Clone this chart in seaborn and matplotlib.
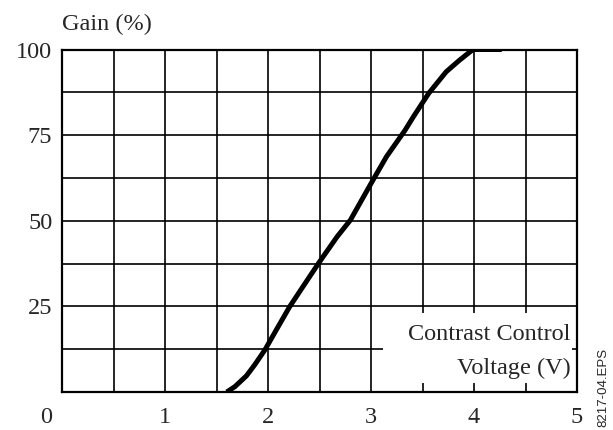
import matplotlib
matplotlib.use("Agg")
import matplotlib.pyplot as plt
import matplotlib.transforms as mtransforms
from matplotlib.patches import Rectangle
import seaborn as sns
import pandas as pd

# Data
voltage = [1.60, 1.68, 1.79, 1.87, 1.97, 2.08, 2.21, 2.36, 2.50, 2.67, 2.80,
           3.01, 3.15, 3.33, 3.41, 3.56, 3.73, 3.86, 3.99, 4.27]
gain = [0.0, 1.6, 4.7, 7.9, 12.3, 18.1, 24.9, 31.7, 38.0, 45.3, 50.2,
        61.4, 68.7, 76.4, 80.3, 87.2, 93.5, 96.9, 100.0, 100.0]
x_ticks = [0, 1, 2, 3, 4, 5]
x_tick_labels = ["0", "1", "2", "3", "4", "5"]
y_ticks = [25, 50, 75, 100]
y_tick_labels = ["25", "50", "75", "100"]
y_label = "Gain (%)"
x_label_lines = ["Contrast Control", "Voltage (V)"]
figure_id = "8217-04.EPS"

df = pd.DataFrame({"voltage": voltage, "gain": gain})

sns.set_style("white")
plt.rcParams["font.family"] = ["Liberation Serif", "DejaVu Serif"]
FS = 17.5

fig = plt.figure(figsize=(6.13, 4.30), dpi=100)
ax = fig.add_axes([62 / 613, 1 - 392 / 430, (577 - 62) / 613, (392 - 49.5) / 430])

sns.lineplot(data=df, x="voltage", y="gain", ax=ax, color="black", linewidth=3.6,
             solid_capstyle="butt", solid_joinstyle="round", zorder=5, sort=False)

ax.set_xlim(0, 5)
ax.set_ylim(0, 100)
ax.set_xticks(x_ticks)
ax.set_xticklabels(x_tick_labels, fontsize=FS)
ax.set_xticks([0.5, 1.5, 2.5, 3.5, 4.5], minor=True)
ax.set_yticks(y_ticks)
ax.set_yticklabels(y_tick_labels, fontsize=FS)
ax.set_yticks([12.5, 37.5, 62.5, 87.5], minor=True)
ax.tick_params(axis="both", which="both", length=0)
ax.tick_params(axis="x", pad=11)
ax.tick_params(axis="y", pad=7)
ax.grid(True, which="both", color="black", linewidth=1.2, zorder=0)
ax.set_axisbelow(True)
ax.set_xlabel("")
ax.set_ylabel("")
for s in ax.spines.values():
    s.set_color("black")
    s.set_linewidth(1.6)
    s.set_visible(True)

# shift the "0" label to the corner
lbl0 = ax.get_xticklabels()[0]
lbl0.set_transform(lbl0.get_transform() + mtransforms.ScaledTranslation(-16 / 100, 0, fig.dpi_scale_trans))

# white box for the axis label
ax.add_patch(Rectangle((3.12, 2.6), 4.95 - 3.12, 23.2 - 2.6, facecolor="white",
                       edgecolor="none", zorder=3))
ax.text(4.94, 16.8, x_label_lines[0], ha="right", va="center", fontsize=FS, zorder=4)
ax.text(4.94, 7.0, x_label_lines[1], ha="right", va="center", fontsize=FS, zorder=4)

fig.text(62 / 613, 1 - 24 / 430, y_label, ha="left", va="center", fontsize=FS)
fig.text(603 / 613, 1 - 387 / 430, figure_id, rotation=90, ha="center", va="center",
         fontsize=9.5, family=["Liberation Sans", "DejaVu Sans"])

fig.savefig("out.png", dpi=100)
